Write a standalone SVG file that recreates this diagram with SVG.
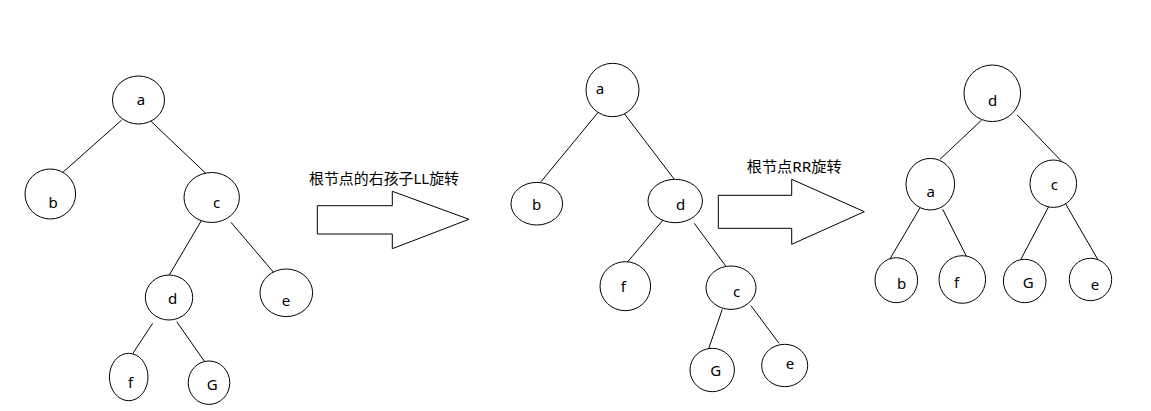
<svg xmlns="http://www.w3.org/2000/svg" width="1151" height="411" viewBox="0 0 1151 411">
<style>
.n ellipse{fill:#fff;stroke:#000;stroke-width:1}
.n text{font-family:"Noto Sans","Noto Sans CJK SC",sans-serif;font-size:15px;fill:#000;text-anchor:middle}
.c line{stroke:#000;stroke-width:1}
.arrow{fill:#fff;stroke:#000;stroke-width:1}
.lbl{font-family:"Noto Sans","Noto Sans CJK SC",sans-serif;font-size:15px;fill:#000}
</style>
<rect width="1151" height="411" fill="#fff"/>
<g id="connectors" class="c">
  <line x1="121.7" y1="120" x2="57.3" y2="177.3"/>
  <line x1="150.7" y1="121" x2="209.3" y2="176.7"/>
  <line x1="201.7" y1="220" x2="168.3" y2="276.7"/>
  <line x1="231" y1="222.3" x2="276.7" y2="276"/>
  <line x1="152.7" y1="323.3" x2="130" y2="357.7"/>
  <line x1="176.7" y1="321.7" x2="209.3" y2="368.3"/>
  <line x1="602.3" y1="107.3" x2="541" y2="181.7"/>
  <line x1="623.3" y1="112.3" x2="677.3" y2="183.3"/>
  <line x1="666.7" y1="215.7" x2="625" y2="265"/>
  <line x1="694.3" y1="223.3" x2="725.7" y2="266"/>
  <line x1="722.3" y1="309.3" x2="706.7" y2="354.3"/>
  <line x1="751" y1="305.7" x2="779" y2="343.3"/>
  <line x1="981.7" y1="120" x2="940" y2="159.3"/>
  <line x1="1017.3" y1="115" x2="1061" y2="160.7"/>
  <line x1="926" y1="197.7" x2="889.3" y2="260"/>
  <line x1="942.7" y1="209.3" x2="968.3" y2="260"/>
  <line x1="1049" y1="206" x2="1019.3" y2="262.3"/>
  <line x1="1065.7" y1="204" x2="1097.7" y2="259.3"/>
</g>
<g id="t1a" class="n"><ellipse cx="138.5" cy="100" rx="26" ry="24" fill="none"/><text x="141" y="104.5">a</text></g>
<g id="t1b" class="n"><ellipse cx="50.3" cy="194" rx="25.3" ry="25" fill="none"/><text x="53" y="208">b</text></g>
<g id="t1c" class="n"><ellipse cx="211.7" cy="197.5" rx="27.7" ry="25" fill="none"/><text x="216.7" y="208">c</text></g>
<g id="t1d" class="n"><ellipse cx="169" cy="297.5" rx="23.7" ry="22.5" fill="none"/><text x="172.7" y="304">d</text></g>
<g id="t1e" class="n"><ellipse cx="286.3" cy="292.8" rx="26.3" ry="23.8" fill="none"/><text x="286" y="306">e</text></g>
<g id="t1f" class="n"><ellipse cx="128.7" cy="377" rx="19.3" ry="23.7" fill="none"/><text x="130.7" y="388">f</text></g>
<g id="t1G" class="n"><ellipse cx="209" cy="382.7" rx="20.8" ry="21.7" fill="none"/><text x="212.3" y="389.5">G</text></g>
<g id="arrow1">
  <polygon class="arrow" points="317.3,205.7 392.3,205.7 392.3,191.3 469,219.3 392.3,248.7 392.3,234 317.3,234"/>
  <text class="lbl" x="309" y="183.5" textLength="150" lengthAdjust="spacingAndGlyphs">根节点的右孩子LL旋转</text>
</g>
<g id="t2a" class="n"><ellipse cx="612.5" cy="90" rx="26.5" ry="26.7" fill="none"/><text x="600" y="93.5">a</text></g>
<g id="t2b" class="n"><ellipse cx="536.8" cy="203.7" rx="25.8" ry="21.3" fill="none"/><text x="536.7" y="209.5">b</text></g>
<g id="t2d" class="n"><ellipse cx="675.2" cy="201" rx="27.2" ry="21.7" fill="none"/><text x="680.7" y="210">d</text></g>
<g id="t2f" class="n"><ellipse cx="625.3" cy="286.2" rx="25.3" ry="24.5" fill="none"/><text x="623.3" y="292">f</text></g>
<g id="t2c" class="n"><ellipse cx="731" cy="287.7" rx="25" ry="21.7" fill="none"/><text x="736.7" y="297">c</text></g>
<g id="t2G" class="n"><ellipse cx="712.2" cy="370" rx="22.2" ry="21.7" fill="none"/><text x="715.7" y="376">G</text></g>
<g id="t2e" class="n"><ellipse cx="784.7" cy="365.5" rx="23" ry="21.2" fill="none"/><text x="790" y="368.5">e</text></g>
<g id="arrow2">
  <polygon class="arrow" points="718.3,195.3 791.7,195.3 791.7,179.3 864.3,211.7 791.7,244.3 791.7,228.3 718.3,228.3"/>
  <text class="lbl" x="746.7" y="172" textLength="95" lengthAdjust="spacingAndGlyphs">根节点RR旋转</text>
</g>
<g id="t3d" class="n"><ellipse cx="992.3" cy="93.3" rx="28.3" ry="28.3" fill="none"/><text x="992.7" y="106">d</text></g>
<g id="t3a" class="n"><ellipse cx="930.3" cy="184.2" rx="24.3" ry="25.8" fill="none"/><text x="930.7" y="197">a</text></g>
<g id="t3c" class="n"><ellipse cx="1053.3" cy="183.7" rx="23.3" ry="23.7" fill="none"/><text x="1054.3" y="190">c</text></g>
<g id="t3b" class="n"><ellipse cx="896.3" cy="280.2" rx="21.3" ry="22.5" fill="none"/><text x="901.7" y="288.5">b</text></g>
<g id="t3f" class="n"><ellipse cx="962.3" cy="279.5" rx="23.3" ry="23.8" fill="none"/><text x="956.7" y="288">f</text></g>
<g id="t3G" class="n"><ellipse cx="1024.7" cy="281" rx="21.3" ry="21.7" fill="none"/><text x="1028.3" y="288">G</text></g>
<g id="t3e" class="n"><ellipse cx="1090.5" cy="279.5" rx="21.2" ry="21.2" fill="none"/><text x="1095" y="289.5">e</text></g>
</svg>
